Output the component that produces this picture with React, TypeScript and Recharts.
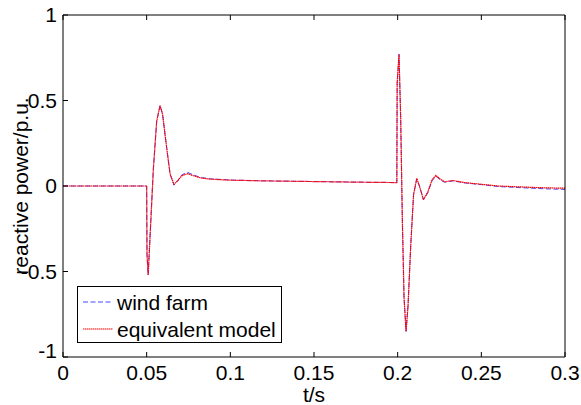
import React from "react";
import { LineChart, Line, XAxis, YAxis } from "recharts";

const time = [
  0, 0.05, 0.0502, 0.0509, 0.0525, 0.054, 0.056, 0.058, 0.0595, 0.062, 0.064,
  0.0663, 0.0685, 0.071, 0.0743, 0.078, 0.082, 0.088, 0.1, 0.12, 0.15, 0.18,
  0.1995, 0.1997, 0.2008, 0.2018, 0.2028, 0.2038, 0.205, 0.2062, 0.2078,
  0.2095, 0.2114, 0.213, 0.2154, 0.218, 0.2205, 0.2228, 0.2255, 0.228, 0.233,
  0.24, 0.25, 0.26, 0.27, 0.28, 0.29, 0.3,
];

const windFarm = [
  0, 0, -0.4, -0.52, -0.2, 0.1, 0.38, 0.47, 0.42, 0.22, 0.07, 0.005, 0.03,
  0.065, 0.08, 0.065, 0.05, 0.042, 0.035, 0.03, 0.026, 0.022, 0.02, 0.6, 0.77,
  0.4, -0.2, -0.65, -0.85, -0.7, -0.35, -0.05, 0.04, 0.0, -0.08, -0.04, 0.03,
  0.058, 0.035, 0.022, 0.03, 0.018, 0.008, -0.003, -0.008, -0.013, -0.017,
  -0.02,
];

const equivalent = [
  0, 0, -0.4, -0.52, -0.2, 0.1, 0.38, 0.47, 0.42, 0.22, 0.07, 0.01, 0.03,
  0.06, 0.072, 0.06, 0.048, 0.04, 0.034, 0.03, 0.026, 0.022, 0.02, 0.6, 0.77,
  0.4, -0.2, -0.65, -0.85, -0.7, -0.35, -0.05, 0.045, 0.0, -0.08, -0.035,
  0.035, 0.062, 0.04, 0.025, 0.032, 0.02, 0.01, 0.0, -0.004, -0.008, -0.011,
  -0.013,
];

const xTicks = [0, 0.05, 0.1, 0.15, 0.2, 0.25, 0.3];
const yTicks = [-1, -0.5, 0, 0.5, 1];

const legendItems = [
  { label: "wind farm", color: "#4646ff", dash: "5 2.5" },
  { label: "equivalent model", color: "#ff0000", dash: "1.5 0.5" },
];

const data = time.map((t, i) => ({
  t,
  wind: windFarm[i],
  eq: equivalent[i],
}));

const FONT = "'Liberation Sans', Arial, sans-serif";
const TICK = 5;

const BottomTick = (props: any) => {
  const { x, y, payload } = props;
  const axisY = y - 8;
  return (
    <g>
      <line x1={x} x2={x} y1={axisY} y2={axisY - TICK} stroke="#000" />
      <text x={x} y={y} dy="0.71em" textAnchor="middle" fontSize={21} fontFamily={FONT} fill="#000">
        {payload.value}
      </text>
    </g>
  );
};

const LeftTick = (props: any) => {
  const { x, y, payload } = props;
  const axisX = x + 6;
  const shift = payload.value === -1 ? -6 : 0;
  return (
    <g>
      <line x1={axisX} x2={axisX + TICK} y1={y} y2={y} stroke="#000" />
      <text x={x} y={y + shift} dy="0.355em" textAnchor="end" fontSize={21} fontFamily={FONT} fill="#000">
        {payload.value}
      </text>
    </g>
  );
};

const TopTick = (props: any) => {
  const { x, y } = props;
  return <line x1={x} x2={x} y1={y} y2={y + TICK} stroke="#000" />;
};

const RightTick = (props: any) => {
  const { x, y } = props;
  return <line x1={x} x2={x - TICK} y1={y} y2={y} stroke="#000" />;
};

const LegendBox = () => (
  <div
    style={{
      position: "absolute",
      left: 77,
      top: 286,
      border: "1px solid #000",
      background: "#fff",
      width: 205,
      height: 57,
      boxSizing: "border-box",
      fontFamily: FONT,
      fontSize: 21,
      color: "#000",
      padding: "1.5px 0 0 5px",
      whiteSpace: "nowrap",
    }}
  >
    {legendItems.map((item) => (
      <div key={item.label} style={{ display: "flex", alignItems: "center", height: 27, lineHeight: "27px" }}>
        <svg width={30} height={10} style={{ marginRight: 4, flex: "none" }}>
          <line x1={0} x2={30} y1={5} y2={5} stroke={item.color} strokeDasharray={item.dash} />
        </svg>
        <span>{item.label}</span>
      </div>
    ))}
  </div>
);

export default function App() {
  return (
    <div style={{ position: "absolute", left: 0, top: 0, width: 581, height: 405 }}>
      <LineChart width={581} height={405} data={data} margin={{ top: 0, right: 0, bottom: 0, left: 0 }}>
        <XAxis
          dataKey="t"
          type="number"
          domain={[0, 0.3]}
          ticks={xTicks}
          height={48}
          tickSize={0}
          tickMargin={8}
          tickLine={false}
          tick={<BottomTick />}
          axisLine={{ stroke: "#000" }}
          interval={0}
          label={{ value: "t/s", position: "insideBottom", offset: 3, fontSize: 21, fontFamily: FONT, fill: "#000" }}
        />
        <XAxis
          xAxisId="top"
          dataKey="t"
          type="number"
          orientation="top"
          domain={[0, 0.3]}
          ticks={xTicks}
          height={15}
          tickSize={0}
          tickMargin={0}
          tickLine={false}
          tick={<TopTick />}
          axisLine={{ stroke: "#000" }}
          interval={0}
        />
        <YAxis
          type="number"
          domain={[-1, 1]}
          ticks={yTicks}
          width={63}
          tickSize={0}
          tickMargin={6}
          tickLine={false}
          tick={<LeftTick />}
          axisLine={{ stroke: "#000" }}
          interval={0}
          label={{
            value: "reactive power/p.u.",
            angle: -90,
            position: "insideLeft",
            offset: 21,
            fontSize: 21,
            fontFamily: FONT,
            fill: "#000",
            style: { textAnchor: "middle" },
          }}
        />
        <YAxis
          yAxisId="right"
          orientation="right"
          type="number"
          domain={[-1, 1]}
          ticks={yTicks}
          width={16}
          tickSize={0}
          tickMargin={0}
          tickLine={false}
          tick={<RightTick />}
          axisLine={{ stroke: "#000" }}
          interval={0}
        />
        <Line
          dataKey="wind"
          type="linear"
          stroke="#4646ff"
          strokeWidth={1}
          strokeDasharray="5 2.5"
          dot={false}
          isAnimationActive={false}
        />
        <Line
          dataKey="eq"
          type="linear"
          stroke="#ff0000"
          strokeWidth={1.2}
          strokeDasharray="1.5 0.5"
          dot={false}
          isAnimationActive={false}
        />
      </LineChart>
      <LegendBox />
    </div>
  );
}
